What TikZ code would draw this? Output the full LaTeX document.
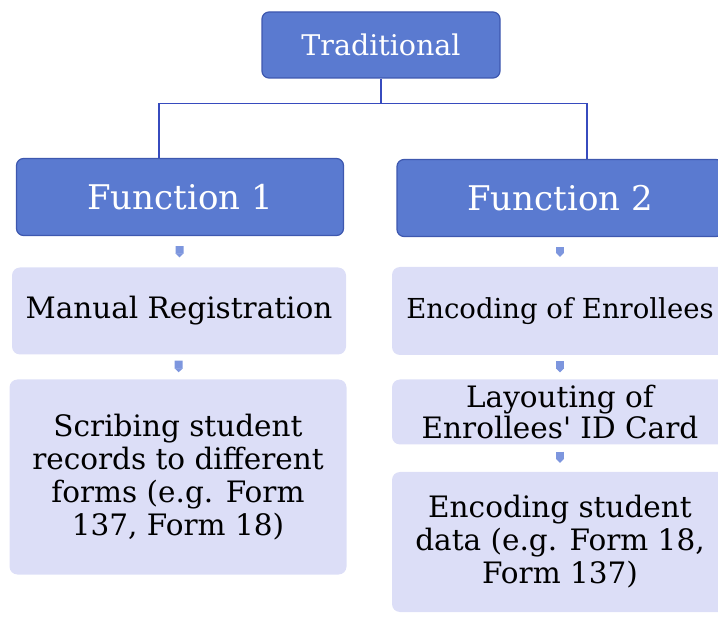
\documentclass[tikz,border=0pt]{standalone}
\usepackage{fontspec}
\setmainfont{DejaVu Serif}
\usetikzlibrary{arrows.meta}
\definecolor{boxblue}{RGB}{90, 122, 208}
\definecolor{edgeblue}{RGB}{62, 88, 175}
\definecolor{lineblue}{RGB}{55, 75, 190}
\definecolor{paleblue}{RGB}{220, 222, 247}
\definecolor{tipblue}{RGB}{125, 150, 222}

\begin{document}
\begin{tikzpicture}[x=1pt, y=-1pt,
    headbox/.style={draw=edgeblue, line width=1.2pt, fill=boxblue, rounded corners=7pt,
        text=white, font=\fontsize{34}{38}\selectfont, inner sep=0pt},
    stepbox/.style={fill=paleblue, rounded corners=8pt, inner sep=0pt, align=center,
        font=\fontsize{29.5}{33}\selectfont},
    tree/.style={draw=lineblue, line width=1.1pt},
    flow/.style={draw=tipblue, line width=8pt, -{Triangle[width=8pt, length=4pt]},
        shorten <=6pt, shorten >=7pt}]
    \useasboundingbox (0,0) rectangle (718,617);
    \node[headbox, minimum width=238, minimum height=66, font=\fontsize{28.5}{32}\selectfont] (trad) at (381,45) {Traditional};
    \node[headbox, minimum width=327, minimum height=77] (f1) at (180,197) {Function 1};
    \node[headbox, minimum width=326, minimum height=77] (f2) at (560,198) {Function 2};
    \node[stepbox, minimum width=334, minimum height=87] (man) at (179,311) {Manual Registration};
    \node[stepbox, minimum width=337, minimum height=195] (scr) at (178,477) {Scribing student\\records to different\\forms (e.g. Form\\137, Form 18)};
    \node[stepbox, minimum width=336, minimum height=88, font=\fontsize{27.5}{33}\selectfont] (enc) at (560,311) {Encoding of Enrollees};
    \node[stepbox, minimum width=336, minimum height=65, font=\fontsize{29.5}{31}\selectfont] (lay) at (560,412) {Layouting of\\Enrollees\textquotesingle{} ID Card};
    \node[stepbox, minimum width=336, minimum height=140] (dat) at (560,542) {Encoding student\\data (e.g. Form 18,\\Form 137)};
    \draw[tree] (trad.south) -- ++(0,25) coordinate (fork);
    \draw[tree] (fork) -| ([xshift=-21]f1.north);
    \draw[tree] (fork) -| ([xshift=27]f2.north);
    \draw[flow, shorten <=10pt, shorten >=10pt] (f1) -- (man);
    \draw[flow] (man) -- (scr);
    \draw[flow, shorten <=10pt, shorten >=10pt] (f2) -- (enc);
    \draw[flow] (enc) -- (lay);
    \draw[flow, shorten <=7pt, shorten >=9pt] (lay) -- (dat);
\end{tikzpicture}
\end{document}
